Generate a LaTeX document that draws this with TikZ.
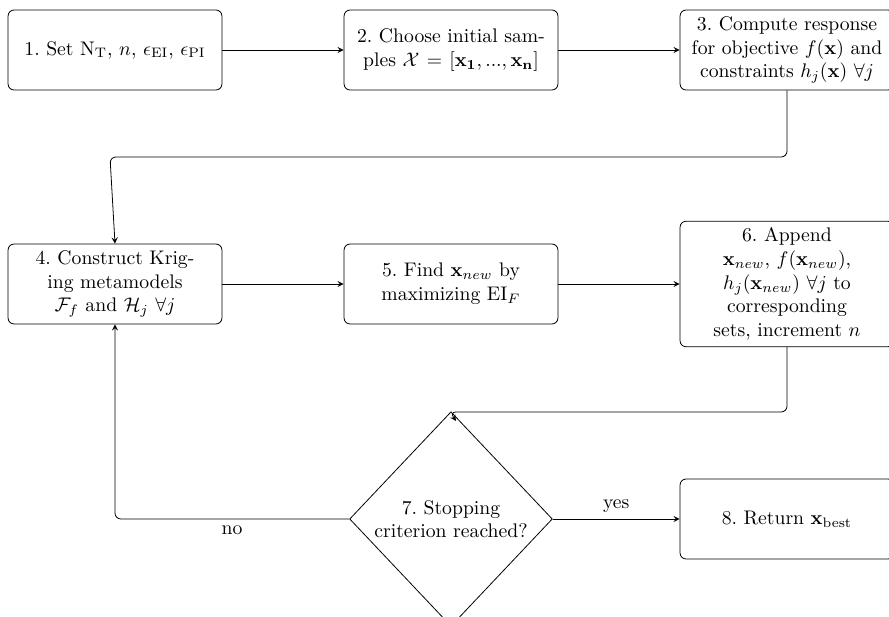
\documentclass[tikz,border=0pt]{standalone}
\usepackage{amsmath,amssymb}
\usetikzlibrary{shapes.geometric,arrows.meta}
\frenchspacing
\begin{document}
\begin{tikzpicture}[x=0.5081pt,y=-0.5081pt,
  stepbox/.style={draw, rounded corners=3pt, text width=102pt, align=center,
    minimum height=40.6pt, inner sep=3.333pt, font=\normalsize},
  decision/.style={draw, diamond, aspect=1, inner sep=0pt, text width=82pt, align=center,
    minimum width=103pt, minimum height=109pt},
  arr/.style={-stealth, rounded corners=3pt}]
\useasboundingbox (0,0) rectangle (889,617);
\node[stepbox] (b1) at (115,50) {1. Set $\mathrm{N_T}$, $n$, $\epsilon_\mathrm{EI}$, $\epsilon_\mathrm{PI}$};
\node[stepbox] (b2) at (451,50) {2. Choose initial sam-\\ples $\mathcal{X} = [\mathbf{x_1}, ..., \mathbf{x_n}]$};
\node[stepbox] (b3) at (787,50) {3. Compute response\\for objective $f(\mathbf{x})$ and\\constraints $h_j(\mathbf{x})$ $\forall j$};
\node[stepbox] (b4) at (115,284) {4. Construct Krig-\\ing metamodels\\$\mathcal{F}_f$ and $\mathcal{H}_j$ $\forall j$};
\node[stepbox] (b5) at (451,284) {5. Find $\mathbf{x}_{new}$ by\\maximizing EI$_F$};
\node[stepbox] (b6) at (787,284) {6. Append\\$\mathbf{x}_{new}$, $f(\mathbf{x}_{new})$,\\$h_j(\mathbf{x}_{new})$ $\forall j$ to\\corresponding\\sets, increment $n$};
\node[decision] (d7) at (451,519) {7. Stopping\\criterion reached?};
\node[stepbox] (b8) at (787,519) {8. Return $\mathbf{x}_\mathrm{best}$};
\coordinate (c34) at (110,157);
\coordinate (c67) at (450,412);
\coordinate (t67) at (456,421);
\draw[arr] (b1.east) -- (b2.west);
\draw[arr] (b2.east) -- (b3.west);
\draw[arr] (b3.south) |- (c34) -- (b4.north);
\draw[arr] (b4.east) -- (b5.west);
\draw[arr] (b5.east) -- (b6.west);
\draw[arr] (b6.south) |- (c67) -- (t67);
\draw[arr] (d7.west) -| node[pos=0.25, below] {no} (b4.south);
\draw[arr] (d7.east) -- node[above] {yes} (b8.west);
\end{tikzpicture}
\end{document}
